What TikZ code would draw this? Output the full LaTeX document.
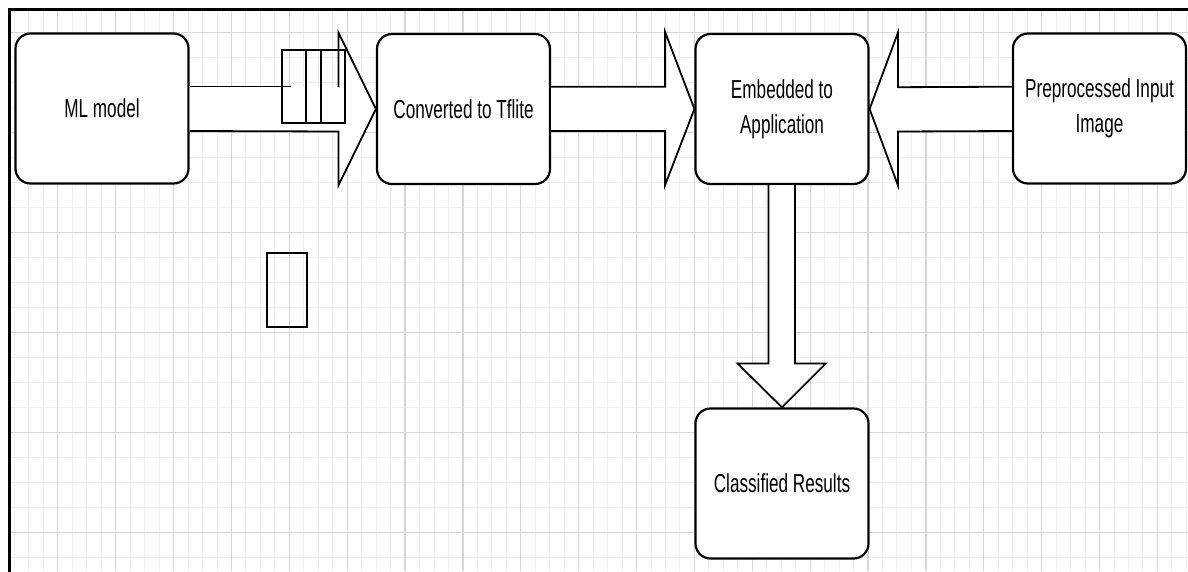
\documentclass[tikz,border=0pt]{standalone}
\usepackage{fontspec}
\setmainfont{Liberation Sans}[FakeStretch=0.66]
\usetikzlibrary{calc}
\begin{document}
\begin{tikzpicture}[x=1pt,y=-1pt,
  minorline/.style={draw=black!6,line width=1pt},
  majorline/.style={draw=black!16,line width=1.2pt},
  frameline/.style={line width=3pt,line cap=rect},
  stage/.style={draw,line width=2.2pt,rounded corners=15pt,fill=white,
    minimum width=173pt,minimum height=150pt,align=center,
    font=\fontsize{26}{35}\selectfont},
  blockline/.style={line width=1.8pt,line join=miter},
  plainbox/.style={draw,line width=2pt,inner sep=0pt}]
\useasboundingbox (0,0) rectangle (1188,571);
\fill[white] (0,0) rectangle (1188,571);

% background grid
\begin{scope}
  \clip (9,9) rectangle (1188,571);
  \foreach \i in {0,...,83} \draw[minorline] ({\i*14.4675},0) -- ({\i*14.4675},571);
  \foreach \j in {0,...,23} \draw[minorline] (0,{7.7+\j*25}) -- (1188,{7.7+\j*25});
  \foreach \i in {0,...,21} \draw[majorline] ({\i*57.87},0) -- ({\i*57.87},571);
  \foreach \j in {0,...,5} \draw[majorline] (0,{32.7+\j*100}) -- (1188,{32.7+\j*100});
\end{scope}
\draw[frameline] (9,571) -- (9,9) -- (1188,9);

% stages
\node[stage] (ml)  at (102,108.5)  {ML model};
\node[stage] (cnv) at (463.5,109)  {Converted to Tflite};
\node[stage] (emb) at (782,109)    {Embedded to\\Application};
\node[stage] (pre) at (1099.5,108.5) {Preprocessed Input\\Image};
\node[stage] (cls) at (782,483.5)  {Classified Results};

% ML model -> Converted to Tflite
\fill[white] ($(ml.east)+(0,-22)$) -- ($(cnv.west)+(-37.5,-22)$) -- ($(cnv.west)+(-37.5,-76.5)$)
  -- (cnv.west) -- ($(cnv.west)+(-37.5,76.5)$) -- ($(cnv.west)+(-37.5,22.5)$)
  -- ($(ml.east)+(0,22.5)$) -- cycle;
\draw[blockline] ($(ml.east)+(0,-22)$) -- ($(ml.east)+(101,-22)$);
\draw[blockline] ($(cnv.west)+(-37.5,-22)$) -- ($(cnv.west)+(-37.5,-76.5)$) -- (cnv.west)
  -- ($(cnv.west)+(-37.5,76.5)$) -- ($(cnv.west)+(-37.5,22.5)$) -- ($(ml.east)+(0,22.5)$);
\node[plainbox,minimum width=63pt,minimum height=73pt] (q) at (313.5,86.5) {};
\draw[line width=2pt] (305.7,50) -- (305.7,123) (321,50) -- (321,123);

% Converted to Tflite -> Embedded to Application
\draw[blockline,fill=white] ($(cnv.east)+(0,-22.3)$) -- ($(emb.west)+(-29.3,-22.3)$)
  -- ($(emb.west)+(-29.3,-77)$) -- (emb.west) -- ($(emb.west)+(-29.3,76)$)
  -- ($(emb.west)+(-29.3,22)$) -- ($(cnv.east)+(0,22)$);

% Preprocessed Input Image -> Embedded to Application
\draw[blockline,fill=white] ($(pre.west)+(0,-21.8)$) -- ($(emb.east)+(28.4,-21.8)$)
  -- ($(emb.east)+(28.4,-76.5)$) -- (emb.east) -- ($(emb.east)+(28.4,76.5)$)
  -- ($(emb.east)+(28.4,22.5)$) -- ($(pre.west)+(0,22.5)$);

% Embedded to Application -> Classified Results
\draw[blockline,fill=white] ($(emb.south)+(-13.5,0)$) -- ($(cls.north)+(-13.5,-44)$)
  -- ($(cls.north)+(-44.5,-44)$) -- (cls.north) -- ($(cls.north)+(44,-44)$)
  -- ($(cls.north)+(13,-44)$) -- ($(emb.south)+(13,0)$);

% loose box
\node[plainbox,minimum width=40pt,minimum height=74pt] (loose) at (286.7,289.7) {};
\end{tikzpicture}
\end{document}
